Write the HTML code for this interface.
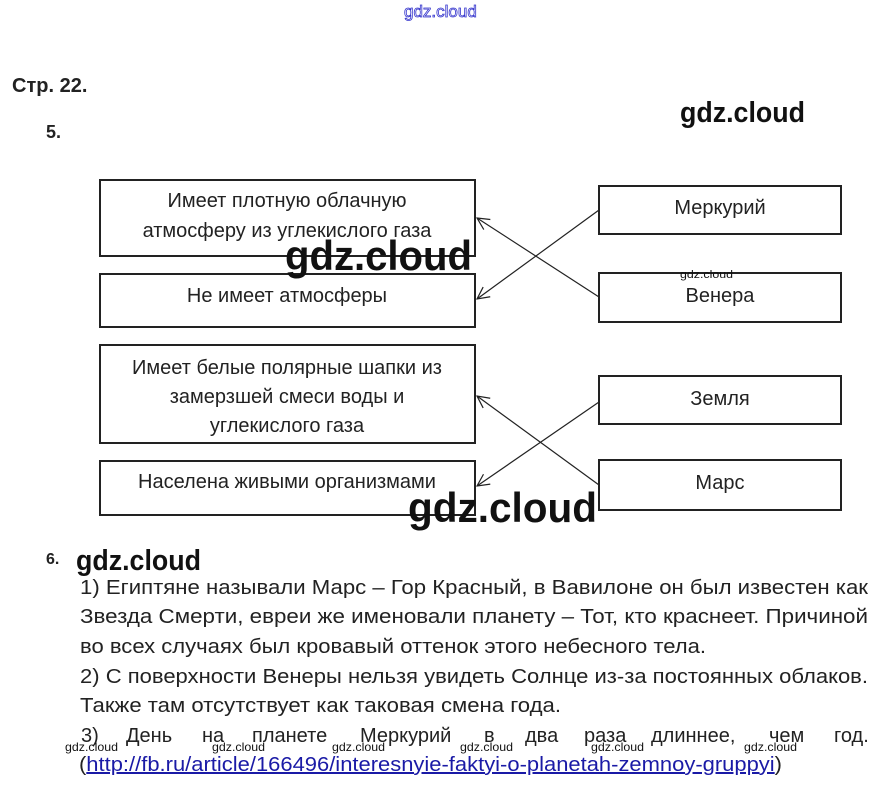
<!DOCTYPE html>
<html><head><meta charset="utf-8"><style>
html,body{margin:0;padding:0;background:#fff;}
svg{display:block;}
text{font-family:"Liberation Sans",sans-serif;fill:#222;}
.w{font-family:"Liberation Sans",sans-serif;fill:#111;font-weight:bold;}
</style></head><body>
<svg width="882" height="790" viewBox="0 0 882 790" xmlns="http://www.w3.org/2000/svg">
<defs><marker id="a" markerWidth="14" markerHeight="14" refX="13" refY="7" orient="auto" markerUnits="userSpaceOnUse"><path d="M1,1 L13,7 L1,13" fill="none" stroke="#222" stroke-width="1.2"/></marker></defs>
<text x="404" y="17" font-size="17" stroke="#3333cc" stroke-width="0.8" style="fill:#fff">gdz.cloud</text>
<text x="12" y="92" font-size="20" font-weight="bold">Стр. 22.</text>
<text x="46" y="138" font-size="18" font-weight="bold">5.</text>
<text class="w" x="680" y="122" font-size="29" textLength="125" lengthAdjust="spacingAndGlyphs">gdz.cloud</text>
<g fill="none" stroke="#222" stroke-width="2">
<rect x="100" y="180" width="375" height="76"/>
<rect x="100" y="274" width="375" height="53"/>
<rect x="100" y="345" width="375" height="98"/>
<rect x="100" y="461" width="375" height="54"/>
<rect x="599" y="186" width="242" height="48"/>
<rect x="599" y="273" width="242" height="49"/>
<rect x="599" y="376" width="242" height="48"/>
<rect x="599" y="460" width="242" height="50"/>
</g>
<g stroke="#222" stroke-width="1.2" fill="none">
<line x1="599" y1="210" x2="477" y2="299" marker-end="url(#a)"/>
<line x1="599" y1="297" x2="477" y2="218" marker-end="url(#a)"/>
<line x1="599" y1="402" x2="477" y2="486" marker-end="url(#a)"/>
<line x1="599" y1="485" x2="477" y2="396" marker-end="url(#a)"/>
</g>
<g font-size="20" text-anchor="middle">
<text x="287" y="207">Имеет плотную облачную</text>
<text x="287" y="237">атмосферу из углекислого газа</text>
<text x="287" y="302">Не имеет атмосферы</text>
<text x="287" y="374">Имеет белые полярные шапки из</text>
<text x="287" y="403">замерзшей смеси воды и</text>
<text x="287" y="432">углекислого газа</text>
<text x="287" y="488">Населена живыми организмами</text>
<text x="720" y="214">Меркурий</text>
<text x="720" y="302">Венера</text>
<text x="720" y="405">Земля</text>
<text x="720" y="489">Марс</text>
</g>
<text class="w" x="285" y="270" font-size="42" textLength="187" lengthAdjust="spacingAndGlyphs">gdz.cloud</text>
<text class="w" x="680" y="278" font-size="11" textLength="53" lengthAdjust="spacingAndGlyphs" style="font-weight:normal">gdz.cloud</text>
<text class="w" x="408" y="522" font-size="42" textLength="189" lengthAdjust="spacingAndGlyphs">gdz.cloud</text>
<text x="46" y="564" font-size="16" font-weight="bold">6.</text>
<text class="w" x="76" y="570" font-size="29" textLength="125" lengthAdjust="spacingAndGlyphs">gdz.cloud</text>
<g font-size="20">
<text x="80" y="594" textLength="788" lengthAdjust="spacingAndGlyphs">1) Египтяне называли Марс – Гор Красный, в Вавилоне он был известен как</text>
<text x="80" y="623" textLength="788" lengthAdjust="spacingAndGlyphs">Звезда Смерти, евреи же именовали планету – Тот, кто краснеет. Причиной</text>
<text x="80" y="653" textLength="626" lengthAdjust="spacingAndGlyphs">во всех случаях был кровавый оттенок этого небесного тела.</text>
<text x="80" y="683" textLength="788" lengthAdjust="spacingAndGlyphs">2) С поверхности Венеры нельзя увидеть Солнце из-за постоянных облаков.</text>
<text x="80" y="712" textLength="481" lengthAdjust="spacingAndGlyphs">Также там отсутствует как таковая смена года.</text>
<text y="742"><tspan x="81">3)</tspan><tspan x="126">День</tspan><tspan x="202">на</tspan><tspan x="252">планете</tspan><tspan x="360">Меркурий</tspan><tspan x="484">в</tspan><tspan x="525">два</tspan><tspan x="584">раза</tspan><tspan x="651">длиннее,</tspan><tspan x="769">чем</tspan><tspan x="834">год.</tspan></text>
<text x="79" y="771" textLength="703" lengthAdjust="spacingAndGlyphs">(<tspan style="fill:#1a1aa6" text-decoration="underline">http://fb.ru/article/166496/interesnyie-faktyi-o-planetah-zemnoy-gruppyi</tspan>)</text>
</g>
<g font-size="12">
<text class="w" x="65" y="751" textLength="53" lengthAdjust="spacingAndGlyphs" style="font-weight:normal">gdz.cloud</text>
<text class="w" x="212" y="751" textLength="53" lengthAdjust="spacingAndGlyphs" style="font-weight:normal">gdz.cloud</text>
<text class="w" x="332" y="751" textLength="53" lengthAdjust="spacingAndGlyphs" style="font-weight:normal">gdz.cloud</text>
<text class="w" x="460" y="751" textLength="53" lengthAdjust="spacingAndGlyphs" style="font-weight:normal">gdz.cloud</text>
<text class="w" x="591" y="751" textLength="53" lengthAdjust="spacingAndGlyphs" style="font-weight:normal">gdz.cloud</text>
<text class="w" x="744" y="751" textLength="53" lengthAdjust="spacingAndGlyphs" style="font-weight:normal">gdz.cloud</text>
</g>
</svg>
</body></html>
